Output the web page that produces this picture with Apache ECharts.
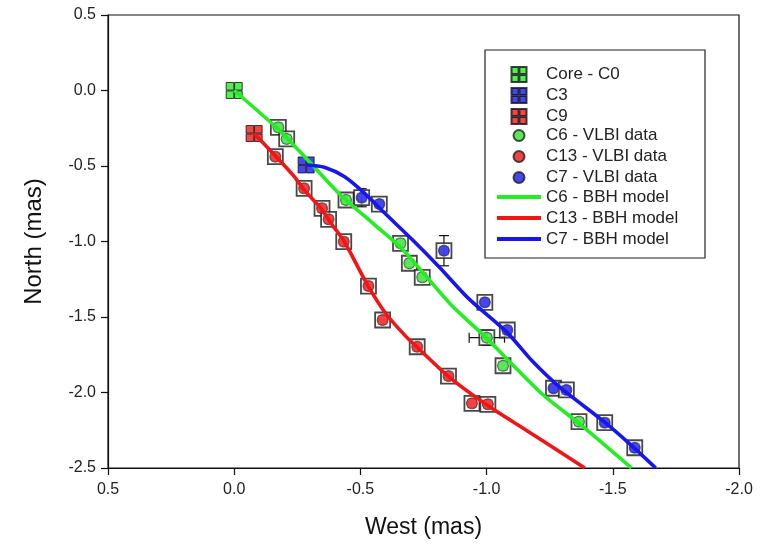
<!DOCTYPE html>
<html><head><meta charset="utf-8">
<script src="https://cdn.jsdelivr.net/npm/echarts@6/dist/echarts.min.js"></script>
<style>html,body{margin:0;padding:0;background:#fff}#c{width:762px;height:548px}</style>
</head><body><div id="c"></div>
<script>
// ---- data (West, North) in mas ----
const xTicks = [0.5, 0.0, -0.5, -1.0, -1.5, -2.0];
const yTicks = [0.5, 0.0, -0.5, -1.0, -1.5, -2.0, -2.5];

const coreC0 = [[0.0, 0.0]];
const compC3 = [[-0.285, -0.493]];
const compC9 = [[-0.079, -0.285]];

const c6Data = [[-0.175,-0.244],[-0.208,-0.321],[-0.443,-0.725],[-0.659,-1.012],[-0.694,-1.144],
  [-0.745,-1.237],[-1.001,-1.637],[-1.065,-1.823],[-1.366,-2.193]];
const c13Data = [[-0.163,-0.438],[-0.277,-0.648],[-0.348,-0.780],[-0.374,-0.853],[-0.434,-1.001],
  [-0.532,-1.295],[-0.588,-1.520],[-0.725,-1.697],[-0.849,-1.891],[-0.942,-2.072],[-1.005,-2.078]];
const c7Data = [[-0.505,-0.710],[-0.575,-0.752],[-0.831,-1.061],[-0.993,-1.403],[-1.082,-1.586],
  [-1.265,-1.972],[-1.316,-1.983],[-1.468,-2.200],[-1.587,-2.366]];

// error bars: [x, y, xErr, yErr]
const errBars = [[-0.831,-1.061,0,0.10],[-0.505,-0.710,0,0.06],[-1.001,-1.637,0.07,0.05]];

const c6Model = [[0,0],[-0.17,-0.25],[-0.28,-0.44],[-0.42,-0.69],[-0.55,-0.88],[-0.66,-1.04],
  [-0.75,-1.21],[-0.86,-1.42],[-1.00,-1.64],[-1.07,-1.76],[-1.22,-2.01],[-1.37,-2.21],[-1.574,-2.5]];
const c13Model = [[-0.079,-0.285],[-0.165,-0.436],[-0.238,-0.57],[-0.278,-0.66],[-0.344,-0.78],
  [-0.384,-0.88],[-0.436,-1.00],[-0.529,-1.29],[-0.602,-1.48],[-0.681,-1.63],[-0.725,-1.70],
  [-0.853,-1.90],[-1.012,-2.095],[-1.157,-2.25],[-1.389,-2.5]];
const c7Model = [[-0.285,-0.493],[-0.357,-0.508],[-0.436,-0.57],[-0.516,-0.68],[-0.595,-0.81],
  [-0.707,-0.99],[-0.813,-1.17],[-0.93,-1.38],[-1.08,-1.60],[-1.18,-1.79],[-1.29,-1.965],
  [-1.47,-2.20],[-1.58,-2.36],[-1.67,-2.5]];

const GREEN = '#22ee22', RED = '#f21515', BLUE = '#1616f0';
const FONT = 'Arial, "Liberation Sans", sans-serif';
const quadPath = 'path://M0,0H9.5V9.5H0ZM10.5,0H20V9.5H10.5ZM0,10.5H9.5V20H0ZM10.5,10.5H20V20H10.5Z';
// legend icons padded to a 44-wide box so text lines up with the line entries
const quadIcon = 'path://M0,0M44,15M14.5,0H21.6V7.1H14.5ZM22.4,0H29.5V7.1H22.4ZM14.5,7.9H21.6V15H14.5ZM22.4,7.9H29.5V15H22.4Z';
const circIcon = 'path://M0,0M44,11M16.5,5.5A5.5,5.5 0 1 1 27.5,5.5A5.5,5.5 0 1 1 16.5,5.5Z';

const allVlbi = c6Data.concat(c13Data, c7Data);

const chart = echarts.init(document.getElementById('c'), null, {renderer:'canvas'});
const axisCommon = {
  type:'value', interval:0.5,
  axisLine:{show:true, onZero:false, lineStyle:{color:'#111', width:1.2}},
  axisTick:{show:true, inside:false, length:7, lineStyle:{color:'#111', width:1.2}},
  splitLine:{show:false},
  axisLabel:{color:'#222', fontSize:16, fontFamily:FONT, formatter:v=>v.toFixed(1)},
  nameLocation:'middle'
};
const legText = {fontSize:17, color:'#222', fontFamily:FONT};
chart.setOption({
  animation:false,
  backgroundColor:'#fff',
  grid:{left:108, right:23, top:15, bottom:80, show:true, borderColor:'#111', borderWidth:1.2},
  xAxis:Object.assign({}, axisCommon, {min:xTicks[xTicks.length-1], max:xTicks[0], inverse:true,
    name:'West (mas)', nameGap:48, nameTextStyle:{color:'#111', fontSize:23, fontFamily:FONT},
    axisLabel:Object.assign({}, axisCommon.axisLabel, {margin:14})}),
  yAxis:Object.assign({}, axisCommon, {min:yTicks[yTicks.length-1], max:yTicks[0],
    name:'North (mas)', nameGap:62, nameTextStyle:{color:'#111', fontSize:24, fontFamily:FONT},
    axisLabel:Object.assign({}, axisCommon.axisLabel, {margin:12})}),
  graphic:[{type:'rect', shape:{x:485, y:50, width:220, height:208},
    style:{fill:'none', stroke:'#222', lineWidth:1.2}, z:0, silent:true}],
  legend:[
    {orient:'vertical', left:496, top:66, itemWidth:44, itemHeight:15, itemGap:4, padding:0, textStyle:legText,
     data:[{name:'Core - C0', icon:quadIcon},{name:'C3', icon:quadIcon},{name:'C9', icon:quadIcon}]},
    {orient:'vertical', left:496, top:127, itemWidth:44, itemHeight:11, itemGap:4, padding:0, textStyle:legText,
     data:[{name:'C6 - VLBI data', icon:circIcon},{name:'C13 - VLBI data', icon:circIcon},{name:'C7 - VLBI data', icon:circIcon}]},
    {orient:'vertical', left:495, top:188.5, itemWidth:44, itemHeight:4, itemGap:4, padding:0, textStyle:legText,
     lineStyle:{width:4}, data:['C6 - BBH model','C13 - BBH model','C7 - BBH model']}
  ],
  series:[
    {type:'scatter', data:allVlbi, symbol:'rect', symbolSize:15, silent:true,
     itemStyle:{color:'#fff', borderColor:'#1a1a1a', borderWidth:1.8}},
    {type:'scatter', data:allVlbi, symbol:'rect', symbolSize:9, silent:true,
     itemStyle:{color:'rgba(255,255,255,0)', borderColor:'#9a9a9a', borderWidth:1}},
    {type:'custom', data:errBars, encode:{x:0, y:1}, silent:true,
     renderItem:function(params, api){
       const x=api.value(0), y=api.value(1), ex=api.value(2), ey=api.value(3);
       const ch=[]; const st={stroke:'#111', lineWidth:1.2};
       if(ey>0){
         const a=api.coord([x,y+ey]), b=api.coord([x,y-ey]);
         ch.push({type:'line', shape:{x1:a[0],y1:a[1],x2:b[0],y2:b[1]}, style:st});
         ch.push({type:'line', shape:{x1:a[0]-5,y1:a[1],x2:a[0]+5,y2:a[1]}, style:st});
         ch.push({type:'line', shape:{x1:b[0]-5,y1:b[1],x2:b[0]+5,y2:b[1]}, style:st});
       }
       if(ex>0){
         const a=api.coord([x+ex,y]), b=api.coord([x-ex,y]);
         ch.push({type:'line', shape:{x1:a[0],y1:a[1],x2:b[0],y2:b[1]}, style:st});
         ch.push({type:'line', shape:{x1:a[0],y1:a[1]-5,x2:a[0],y2:a[1]+5}, style:st});
         ch.push({type:'line', shape:{x1:b[0],y1:b[1]-5,x2:b[0],y2:b[1]+5}, style:st});
       }
       return {type:'group', children:ch};
     }},
    {name:'C3', type:'scatter', data:compC3, symbol:quadPath, symbolSize:16,
     itemStyle:{color:BLUE, borderColor:'#111', borderWidth:1}},
    {name:'C6 - BBH model', type:'line', data:c6Model, symbol:'none', smooth:0.25,
     lineStyle:{color:GREEN, width:3.6}, itemStyle:{color:GREEN}},
    {name:'C13 - BBH model', type:'line', data:c13Model, symbol:'none', smooth:0.25,
     lineStyle:{color:RED, width:3.6}, itemStyle:{color:RED}},
    {name:'C7 - BBH model', type:'line', data:c7Model, symbol:'none', smooth:0.25,
     lineStyle:{color:BLUE, width:3.6}, itemStyle:{color:BLUE}},
    {name:'Core - C0', type:'scatter', data:coreC0, symbol:quadPath, symbolSize:16,
     itemStyle:{color:GREEN, borderColor:'#111', borderWidth:1}},
    {name:'C9', type:'scatter', data:compC9, symbol:quadPath, symbolSize:16,
     itemStyle:{color:RED, borderColor:'#111', borderWidth:1}},
    {name:'C6 - VLBI data', type:'scatter', data:c6Data, symbol:'circle', symbolSize:11,
     itemStyle:{color:'#2fe02f', borderColor:'#222', borderWidth:0.8}},
    {name:'C13 - VLBI data', type:'scatter', data:c13Data, symbol:'circle', symbolSize:11,
     itemStyle:{color:'#ee1414', borderColor:'#222', borderWidth:0.8}},
    {name:'C7 - VLBI data', type:'scatter', data:c7Data, symbol:'circle', symbolSize:11,
     itemStyle:{color:'#1818e6', borderColor:'#222', borderWidth:0.8}}
  ]
});
</script></body></html>
